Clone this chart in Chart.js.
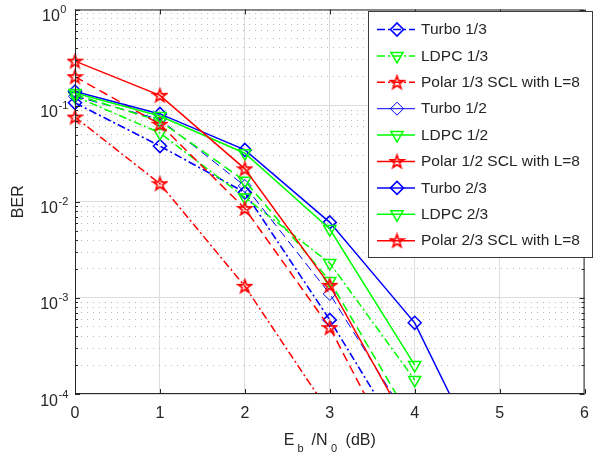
<!DOCTYPE html>
<html>
<head>
<meta charset="utf-8">
<script src="https://cdn.jsdelivr.net/npm/chart.js@4.4.1/dist/chart.umd.min.js"></script>
<style>
  html, body { margin: 0; padding: 0; background: #fff; }
  #wrap { width: 599px; height: 456px; }
</style>
</head>
<body>
<div id="wrap"><canvas id="ber" width="599" height="456"></canvas></div>
<script>
// Eb/N0 in dB
const ebn0 = [0, 1, 2, 3, 4, 5];

// BER values (points past the last visible one are where the line leaves the axes)
const turbo13 = [0.107, 0.038, 0.0125, 0.00059, 2.1e-5];
const ldpc13  = [0.125, 0.052, 0.0111, 0.0023, 1.4e-4];
const polar13 = [0.076, 0.0154, 0.00132, 6.3e-5];
const turbo12 = [0.125, 0.072, 0.0146, 0.0011, 4.2e-5];
const ldpc12  = [0.13, 0.069, 0.0165, 0.0015, 4.7e-5];
const polar12 = [0.20, 0.064, 0.0085, 0.00049, 1.0e-5];
const turbo23 = [0.14, 0.082, 0.0346, 0.0061, 0.00055, 8.7e-6];
const ldpc23  = [0.135, 0.078, 0.032, 0.0052, 2.0e-4];
const polar23 = [0.29, 0.128, 0.022, 0.00135, 3.5e-5];

const labels = [
  'Turbo 1/3', 'LDPC 1/3', 'Polar 1/3 SCL with L=8',
  'Turbo 1/2', 'LDPC 1/2', 'Polar 1/2 SCL with L=8',
  'Turbo 2/3', 'LDPC 2/3', 'Polar 2/3 SCL with L=8'
];

const xTicks = [0, 1, 2, 3, 4, 5, 6];
const yExponents = [0, -1, -2, -3, -4];

const FONT = "'Liberation Sans', Arial, Helvetica, sans-serif";
const INK = '#262626';
const BLUE = '#0000ff', GREEN = '#00ff00', RED = '#ff0000';
const DASHDOT = [8, 3, 2, 3];
const DASHED = [9, 5];

// y ticks: 1..9 x 10^k for every decade shown
const yTickValues = [];
for (let e = -4; e <= 0; e++) {
  for (let m = 1; m <= 9; m++) {
    if (e === 0 && m > 1) break;
    yTickValues.push(m * Math.pow(10, e));
  }
}
function isDecade(v) {
  const l = Math.log10(v);
  return Math.abs(l - Math.round(l)) < 1e-6;
}

function starImage(color, lw) {
  const size = 17;
  const c = document.createElement('canvas');
  c.width = size; c.height = size;
  const g = c.getContext('2d');
  const cx = size / 2, cy = size / 2 + 0.5, R = size / 2 - lw, r = R * 0.4;
  g.beginPath();
  for (let i = 0; i < 10; i++) {
    const a = -Math.PI / 2 + i * Math.PI / 5;
    const rr = i % 2 ? r : R;
    g.lineTo(cx + rr * Math.cos(a), cy + rr * Math.sin(a));
  }
  g.closePath();
  g.strokeStyle = color;
  g.lineWidth = lw;
  g.stroke();
  return c;
}
const redStar = starImage(RED, 1.7);

const markers = {
  diamond: { pointStyle: 'rectRot', pointRadius: 6.5, pointRotation: 0 },
  triangle: { pointStyle: 'triangle', pointRadius: 7, pointRotation: 180 },
  star: { pointStyle: redStar, pointRadius: 8, pointRotation: 0 }
};

// style per series: [values, color, dash, width, marker, legendDash]
const styles = [
  [turbo13, BLUE, DASHDOT, 1.6, 'diamond', DASHDOT],
  [ldpc13, GREEN, DASHDOT, 1.5, 'triangle', DASHDOT],
  [polar13, RED, DASHDOT, 1.5, 'star', DASHDOT],
  [turbo12, BLUE, DASHED, 1, 'diamond', []],
  [ldpc12, GREEN, DASHED, 1.5, 'triangle', []],
  [polar12, RED, DASHED, 1.5, 'star', []],
  [turbo23, BLUE, [], 1.5, 'diamond', []],
  [ldpc23, GREEN, [], 1.5, 'triangle', []],
  [polar23, RED, [], 1.5, 'star', []]
];

const datasets = styles.map((s, i) => {
  const [vals, color, dash, width, mk] = s;
  return Object.assign({
    label: labels[i],
    data: vals.map((v, j) => ({ x: ebn0[j], y: v })),
    borderColor: color,
    borderWidth: width,
    borderDash: dash,
    pointBorderColor: color,
    pointBackgroundColor: 'rgba(0,0,0,0)',
    pointBorderWidth: width,
    tension: 0,
    fill: false,
    order: 9 - i,
    clip: { left: 12, top: 0, right: 0, bottom: 0 }
  }, markers[mk]);
});

function drawMarker(g, kind, x, y, color, lw) {
  g.save();
  g.setLineDash([]);
  g.strokeStyle = color;
  g.lineWidth = lw;
  if (kind === 'diamond') {
    const r = 6.5;
    g.beginPath();
    g.moveTo(x - r, y); g.lineTo(x, y - r); g.lineTo(x + r, y); g.lineTo(x, y + r);
    g.closePath(); g.stroke();
  } else if (kind === 'triangle') {
    const r = 7;
    g.beginPath();
    for (let k = 0; k < 3; k++) {
      const a = Math.PI + k * 2 * Math.PI / 3;
      g.lineTo(x + Math.sin(a) * r, y - Math.cos(a) * r);
    }
    g.closePath(); g.stroke();
  } else {
    g.drawImage(redStar, x - redStar.width / 2, y - redStar.height / 2);
  }
  g.restore();
}

const decorations = {
  id: 'decorations',
  afterDraw(chart) {
    const g = chart.ctx;
    const a = chart.chartArea;
    const xs = chart.scales.x, ys = chart.scales.y;
    g.save();

    // axes box
    g.strokeStyle = INK;
    g.lineWidth = 1;
    g.setLineDash([]);
    g.strokeRect(a.left + 0.5, a.top + 0.5, a.right - a.left - 1, a.bottom - a.top - 1);

    // inward ticks
    g.beginPath();
    xTicks.forEach(v => {
      const px = Math.round(xs.getPixelForValue(v)) + 0.5;
      g.moveTo(px, a.bottom); g.lineTo(px, a.bottom - 5);
      g.moveTo(px, a.top); g.lineTo(px, a.top + 5);
    });
    yTickValues.forEach(v => {
      const py = Math.round(ys.getPixelForValue(v)) + 0.5;
      const len = isDecade(v) ? 5 : 3;
      g.moveTo(a.left, py); g.lineTo(a.left + len, py);
      g.moveTo(a.right, py); g.lineTo(a.right - len, py);
    });
    g.stroke();

    // y tick labels 10^k
    g.fillStyle = INK;
    g.textBaseline = 'alphabetic';
    yExponents.forEach(e => {
      const py = ys.getPixelForValue(Math.pow(10, e));
      const base = '10', sup = String(e);
      g.font = '16px ' + FONT;
      const wb = g.measureText(base).width;
      g.font = '11px ' + FONT;
      const ws = g.measureText(sup).width;
      const x0 = 54 - (wb + ws) / 2;
      g.font = '16px ' + FONT;
      g.textAlign = 'left';
      g.fillText(base, x0, py + 11.5);
      g.font = '11px ' + FONT;
      g.fillText(sup, x0 + wb + 0.5, py + 3.5);
    });

    // y title
    g.save();
    g.translate(19, (a.top + a.bottom) / 2);
    g.rotate(-Math.PI / 2);
    g.font = '16px ' + FONT;
    g.textAlign = 'center';
    g.textBaseline = 'middle';
    g.fillText('BER', 0, 0);
    g.restore();

    // x title: E_b /N_0 (dB)
    const parts = [
      ['E', 16, 0, 3], ['b', 11, 7, 8], ['/N', 16, 0, 3.5], ['0', 11, 7, 8.5], ['(dB)', 16, 0, 0]
    ];
    let total = 0;
    parts.forEach(p => { g.font = p[1] + 'px ' + FONT; p.push(g.measureText(p[0]).width); total += p[4] + p[3]; });
    let cx = (a.left + a.right) / 2 - total / 2;
    g.textAlign = 'left';
    parts.forEach(p => {
      g.font = p[1] + 'px ' + FONT;
      g.fillText(p[0], cx, 445 + p[2]);
      cx += p[4] + p[3];
    });

    // legend
    const lx = 368.5, ly = 11.5, lw = 224, lh = 246;
    g.fillStyle = '#ffffff';
    g.fillRect(lx, ly, lw, lh);
    g.strokeStyle = '#3a3a3a';
    g.lineWidth = 1;
    g.strokeRect(lx, ly, lw, lh);
    styles.forEach((s, i) => {
      const [, color, , width, mk, ldash] = s;
      const y = 29.5 + i * 26.4;
      g.save();
      g.strokeStyle = color;
      g.lineWidth = width;
      g.setLineDash(ldash);
      g.beginPath();
      g.moveTo(377, y); g.lineTo(415, y);
      g.stroke();
      g.restore();
      drawMarker(g, mk, 397, y, color, width);
      g.fillStyle = INK;
      g.font = '15.5px ' + FONT;
      g.textAlign = 'left';
      g.textBaseline = 'middle';
      g.fillText(labels[i], 421, y + 0.5);
    });
    g.restore();
  }
};

new Chart(document.getElementById('ber'), {
  type: 'line',
  data: { datasets },
  options: {
    responsive: false,
    animation: false,
    events: [],
    layout: { padding: { top: 8, right: 4, left: 0, bottom: 0 } },
    plugins: { legend: { display: false }, tooltip: { enabled: false } },
    scales: {
      x: {
        type: 'linear', min: 0, max: 6,
        afterBuildTicks: s => { s.ticks = xTicks.map(v => ({ value: v })); },
        afterFit: s => { s.height = 62; },
        ticks: {
          color: INK, padding: 10, maxRotation: 0,
          font: { family: FONT, size: 16 },
          callback: v => String(v)
        },
        grid: { color: '#dcdcdc', lineWidth: 1, drawTicks: false },
        border: { display: false }
      },
      y: {
        type: 'logarithmic', min: 1e-4, max: 1,
        afterBuildTicks: s => { s.ticks = yTickValues.map(v => ({ value: v })); },
        afterFit: s => { s.width = 75; },
        ticks: { display: false },
        grid: {
          drawTicks: false,
          lineWidth: 1,
          color: c => (c.tick && !isDecade(c.tick.value)) ? '#b8b8b8' : '#dcdcdc'
        },
        border: {
          display: false,
          dash: c => (c.tick && !isDecade(c.tick.value)) ? [1, 5] : []
        }
      }
    }
  },
  plugins: [decorations]
});
</script>
</body>
</html>
